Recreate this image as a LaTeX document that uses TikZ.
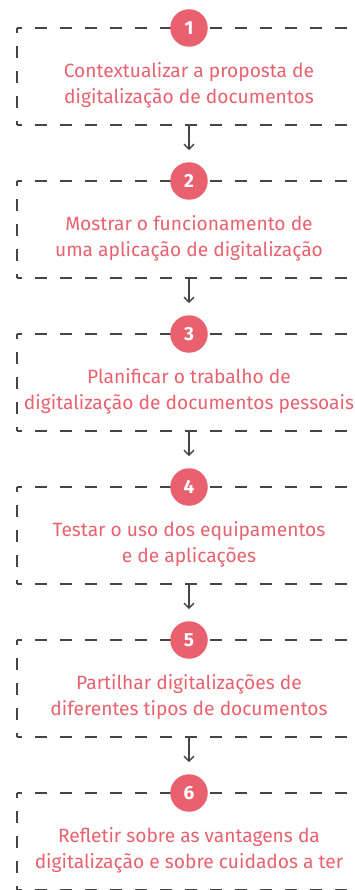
\documentclass[tikz,border=0pt]{standalone}
\usepackage{fontspec}
\setmainfont{Fira Sans}
\usetikzlibrary{arrows.meta}
\definecolor{stepred}{HTML}{E9616F}
\definecolor{framegray}{HTML}{454545}

\begin{document}
\begin{tikzpicture}[
    x=1pt, y=-1pt,
    frame/.style={draw=framegray, line width=2pt, dash pattern=on 12pt off 13pt, dash phase=7pt},
    badge/.style={circle, fill=stepred, minimum size=37.5pt, inner sep=0pt, text=white, font=\fontsize{19}{19}\selectfont\bfseries},
    task/.style={align=center, text=stepred, font=\fontsize{19.2}{26}\selectfont},
    flow/.style={-{Straight Barb[length=5pt,width=10pt]}, line width=1.3pt, draw=framegray}
]
\useasboundingbox (0,0) rectangle (354,890);
\clip (0,0) rectangle (354,890);

\draw[frame] (17,28) -- (370,28);
\draw[frame] (17,28) -- (17,125);
\draw[frame] (17,125) -- (370,125);
\draw[frame] (17,181) -- (370,181);
\draw[frame] (17,181) -- (17,278);
\draw[frame] (17,278) -- (370,278);
\draw[frame] (17,334) -- (370,334);
\draw[frame] (17,334) -- (17,431);
\draw[frame] (17,431) -- (370,431);
\draw[frame] (17,487) -- (370,487);
\draw[frame] (17,487) -- (17,584);
\draw[frame] (17,584) -- (370,584);
\draw[frame] (17,640) -- (370,640);
\draw[frame] (17,640) -- (17,737);
\draw[frame] (17,737) -- (370,737);
\draw[frame] (17,793) -- (370,793);
\draw[frame] (17,793) -- (17,890);
\draw[frame] (17,890) -- (370,890);

\node[badge] (num1) at (189,28) {1};
\node[task] (txt1) at (189,85) {Contextualizar a proposta de\\digitalização de documentos};
\coordinate (out1) at (189,125);

\node[badge] (num2) at (189,181) {2};
\node[task] (txt2) at (189,238) {Mostrar o funcionamento de\\uma aplicação de digitalização};
\coordinate (out2) at (189,278);

\node[badge] (num3) at (189,334) {3};
\node[task] (txt3) at (189,391) {Planificar o trabalho de\\digitalização de documentos pessoais};
\coordinate (out3) at (189,431);

\node[badge] (num4) at (189,487) {4};
\node[task] (txt4) at (189,544) {Testar o uso dos equipamentos\\e de aplicações};
\coordinate (out4) at (189,584);

\node[badge] (num5) at (189,640) {5};
\node[task] (txt5) at (189,697) {Partilhar digitalizações de\\diferentes tipos de documentos};
\coordinate (out5) at (189,737);

\node[badge] (num6) at (189,793) {6};
\node[task] (txt6) at (189,850) {Refletir sobre as vantagens da\\digitalização e sobre cuidados a ter};

\draw[flow] (out1) -- ([yshift=12pt]num2.north);
\draw[flow] (out2) -- ([yshift=12pt]num3.north);
\draw[flow] (out3) -- ([yshift=12pt]num4.north);
\draw[flow] (out4) -- ([yshift=12pt]num5.north);
\draw[flow] (out5) -- ([yshift=12pt]num6.north);
\end{tikzpicture}
\end{document}
